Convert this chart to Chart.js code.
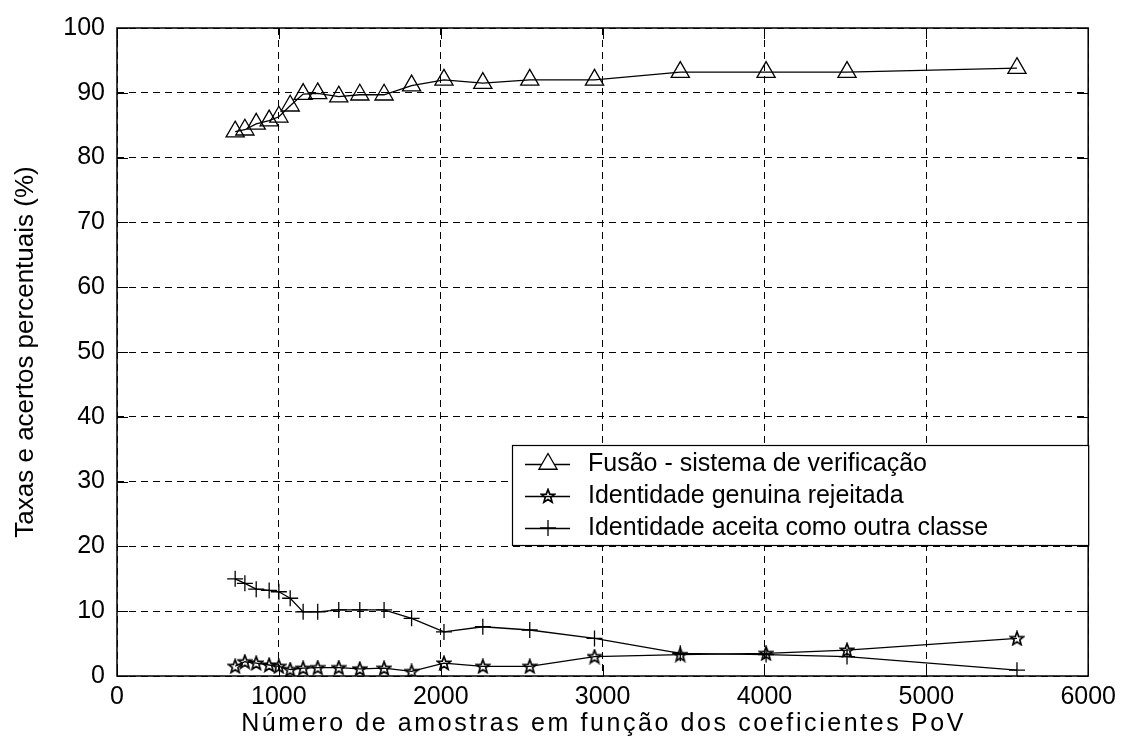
<!DOCTYPE html>
<html>
<head>
<meta charset="utf-8">
<script src="https://cdn.jsdelivr.net/npm/chart.js@4"></script>
<style>
  html, body { margin: 0; background: #fff; }
  #wrap { width: 1122px; height: 740px; }
</style>
</head>
<body>
<div id="wrap"><canvas id="chart"></canvas></div>
<script>
// valores
const amostras = [730, 790, 860, 940, 1000, 1070, 1150, 1240, 1370, 1500, 1650, 1820, 2020, 2260, 2550, 2950, 3480, 4010, 4510, 5560];
const fusao = [84.0, 84.3, 85.2, 85.7, 86.3, 88.0, 89.8, 89.9, 89.4, 89.7, 89.7, 91.1, 92.0, 91.5, 92.0, 92.0, 93.2, 93.2, 93.2, 93.8];
const rejeitada = [1.5, 2.2, 2.0, 1.7, 1.5, 1.0, 1.2, 1.3, 1.3, 1.1, 1.2, 0.7, 2.0, 1.5, 1.5, 3.0, 3.3, 3.5, 4.0, 5.8];
const aceita = [15.0, 14.3, 13.4, 13.2, 13.0, 12.0, 9.9, 9.9, 10.2, 10.2, 10.2, 8.9, 6.8, 7.6, 7.1, 5.8, 3.5, 3.3, 3.0, 0.9];
const xTicks = [0, 1000, 2000, 3000, 4000, 5000, 6000];
const yTicks = [0, 10, 20, 30, 40, 50, 60, 70, 80, 90, 100];
const nomes = ['Fusão - sistema de verificação', 'Identidade genuina rejeitada', 'Identidade aceita como outra classe'];
const tituloX = 'Número de amostras em função dos coeficientes PoV';
const tituloY = 'Taxas e acertos percentuais (%)';

const FONT = '"Liberation Sans", Arial, sans-serif';

function pentagram(size) {
    const c = document.createElement('canvas');
    c.width = c.height = size;
    const g = c.getContext('2d');
    const cx = size / 2, cy = size / 2 + 0.5, r = size / 2 - 1;
    g.beginPath();
    for (let k = 0; k < 10; k++) {
        const a = -Math.PI / 2 + k * Math.PI / 5;
        const rr = k % 2 ? r * 0.42 : r;
        g.lineTo(cx + rr * Math.cos(a), cy + rr * Math.sin(a));
    }
    g.closePath();
    g.strokeStyle = '#000';
    g.lineWidth = 1.7;
    g.stroke();
    return c;
}
const starImg = pentagram(16);

function pts(ys) {
    return amostras.map((x, i) => ({ x: x, y: ys[i] }));
}

function drawMarker(ctx, style, x, y) {
    ctx.save();
    ctx.strokeStyle = '#000';
    ctx.lineWidth = 1.3;
    if (style === 'triangle') {
        const r = 10.5;
        ctx.beginPath();
        ctx.moveTo(x, y - r);
        ctx.lineTo(x + r * 0.866, y + r * 0.5);
        ctx.lineTo(x - r * 0.866, y + r * 0.5);
        ctx.closePath();
        ctx.fillStyle = '#fff';
        ctx.fill();
        ctx.stroke();
    } else if (style === 'star') {
        ctx.drawImage(starImg, x - 8, y - 8);
    } else {
        ctx.beginPath();
        ctx.moveTo(x - 8, y); ctx.lineTo(x + 8, y);
        ctx.moveTo(x, y - 8); ctx.lineTo(x, y + 8);
        ctx.stroke();
    }
    ctx.restore();
}

// moldura, marcas internas, título x e legenda
const moldura = {
    id: 'moldura',
    afterDraw(chart) {
        const ctx = chart.ctx;
        const a = chart.chartArea;
        const sx = chart.scales.x, sy = chart.scales.y;
        ctx.save();
        ctx.strokeStyle = '#000';
        ctx.lineWidth = 1.5;
        ctx.strokeRect(a.left, a.top, a.right - a.left, a.bottom - a.top);
        ctx.lineWidth = 1;
        const t = 11;
        ctx.beginPath();
        xTicks.forEach(v => {
            const px = Math.round(sx.getPixelForValue(v)) + 0.5;
            ctx.moveTo(px, a.bottom); ctx.lineTo(px, a.bottom - t);
            ctx.moveTo(px, a.top); ctx.lineTo(px, a.top + t);
        });
        yTicks.forEach(v => {
            const py = Math.round(sy.getPixelForValue(v)) + 0.5;
            ctx.moveTo(a.left, py); ctx.lineTo(a.left + t, py);
            ctx.moveTo(a.right, py); ctx.lineTo(a.right - t, py);
        });
        ctx.stroke();

        // título do eixo x (espaçado como no original)
        ctx.fillStyle = '#000';
        ctx.font = '25px ' + FONT;
        ctx.textAlign = 'center';
        ctx.textBaseline = 'middle';
        ctx.letterSpacing = '2.6px';
        ctx.fillText(tituloX, (a.left + a.right) / 2 + 1, 724);
        ctx.letterSpacing = '0px';

        // legenda
        const L = 512, T = 445, R = a.right, B = 545;
        ctx.fillStyle = '#fff';
        ctx.fillRect(L, T, R - L, B - T);
        ctx.lineWidth = 1.2;
        ctx.strokeRect(L + 0.5, T + 0.5, R - L, B - T);
        const estilos = ['triangle', 'star', 'cross'];
        const linhas = [464, 496, 528];
        ctx.textAlign = 'left';
        estilos.forEach((s, i) => {
            const y = linhas[i];
            ctx.beginPath();
            ctx.lineWidth = 1.3;
            ctx.moveTo(525, y + 0.5); ctx.lineTo(570, y + 0.5);
            ctx.stroke();
            drawMarker(ctx, s, 548, y);
            ctx.fillStyle = '#000';
            ctx.fillText(nomes[i], 588, y);
        });
        ctx.restore();
    }
};

const grid = {
    color: '#000',
    lineWidth: 1,
    drawTicks: false
};
const borda = { display: false, dash: [7, 5] };

new Chart(document.getElementById('chart'), {
    type: 'line',
    data: {
        datasets: [
            { label: nomes[0], data: pts(fusao), pointStyle: 'triangle', pointRadius: 10.5,
              borderColor: '#000', backgroundColor: 'rgba(255,255,255,0)', pointBorderColor: '#000', borderWidth: 1.3, pointBorderWidth: 1.3 },
            { label: nomes[1], data: pts(rejeitada), pointStyle: starImg,
              borderColor: '#000', backgroundColor: '#000', borderWidth: 1.3 },
            { label: nomes[2], data: pts(aceita), pointStyle: 'cross', pointRadius: 8,
              borderColor: '#000', pointBorderColor: '#000', borderWidth: 1.3, pointBorderWidth: 1.3 }
        ]
    },
    options: {
        responsive: true,
        maintainAspectRatio: false,
        animation: false,
        layout: { padding: { top: 28, right: 32, left: 0, bottom: 0 } },
        elements: { line: { tension: 0 } },
        plugins: { legend: { display: false }, tooltip: { enabled: false } },
        scales: {
            x: {
                type: 'linear', min: 0, max: 6000,
                afterBuildTicks: s => { s.ticks = xTicks.map(v => ({ value: v })); },
                afterFit: s => { s.height = 64; },
                grid: grid,
                border: borda,
                ticks: { color: '#000', padding: 6, callback: v => String(v), font: { family: FONT, size: 25 } },
                title: { display: false }
            },
            y: {
                min: 0, max: 100,
                afterBuildTicks: s => { s.ticks = yTicks.map(v => ({ value: v })); },
                afterFit: s => { s.width = 117; },
                grid: grid,
                border: borda,
                ticks: { color: '#000', padding: 12, font: { family: FONT, size: 25 } },
                title: { display: true, text: tituloY,
                         color: '#000', padding: { top: 10, bottom: 0 }, font: { family: FONT, size: 26 } }
            }
        }
    },
    plugins: [moldura]
});
</script>
</body>
</html>
